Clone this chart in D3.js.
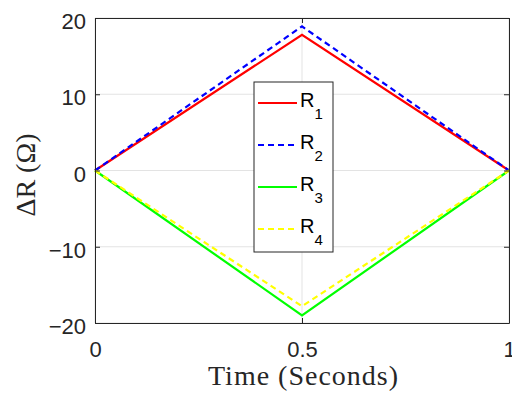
<!DOCTYPE html>
<html><head><meta charset="utf-8">
<script src="https://cdn.jsdelivr.net/npm/d3@7"></script>
<style>body{margin:0;background:#fff}</style>
</head><body>
<svg id="c" width="512" height="399"></svg>
<script>
const times = [0, 0.5, 1];
const r1 = [0, 17.8, 0];
const r2 = [0, 18.9, 0];
const r3 = [0, -19.0, 0];
const r4 = [0, -17.8, 0];
const seriesNames = ["1", "2", "3", "4"];
const xTicks = [0, 0.5, 1];
const yTicks = [-20, -10, 0, 10, 20];

const series = [
  {name: seriesNames[0], values: r1, color: "#ff0000", dash: null},
  {name: seriesNames[1], values: r2, color: "#0000ff", dash: "6,4"},
  {name: seriesNames[2], values: r3, color: "#00ff00", dash: null},
  {name: seriesNames[3], values: r4, color: "#ffff00", dash: "6,4"}
];

const L = 95, R = 509, T = 18, B = 323;
const svg = d3.select("#c");
const x = d3.scaleLinear().domain([0, 1]).range([L, R]);
const y = d3.scaleLinear().domain([-20, 20]).range([B, T]);

// grid
svg.append("g").selectAll("line").data(xTicks).join("line")
  .attr("x1", d => x(d)).attr("x2", d => x(d)).attr("y1", T).attr("y2", B)
  .attr("stroke", "#e3e3e3").attr("stroke-width", 1);
svg.append("g").selectAll("line").data(yTicks).join("line")
  .attr("y1", d => y(d)).attr("y2", d => y(d)).attr("x1", L).attr("x2", R)
  .attr("stroke", "#e3e3e3").attr("stroke-width", 1);

// lines
const line = d3.line().x((d, i) => x(times[i])).y(d => y(d));
series.forEach(s => {
  svg.append("path").datum(s.values).attr("d", line)
    .attr("fill", "none").attr("stroke", s.color).attr("stroke-width", 2.2)
    .attr("stroke-dasharray", s.dash);
});

// axes
const fontT = "'Liberation Sans', Arial, Helvetica, sans-serif";
const xAxis = d3.axisBottom(x).tickValues(xTicks).tickFormat(d3.format("")).tickSizeInner(-5).tickSizeOuter(0);
const yAxis = d3.axisLeft(y).tickValues(yTicks).tickFormat(d3.format("")).tickSizeInner(-5).tickSizeOuter(0);
const gx = svg.append("g").attr("transform", `translate(0,${B})`).call(xAxis);
const gy = svg.append("g").attr("transform", `translate(${L},0)`).call(yAxis);
svg.append("g").attr("transform", `translate(0,${T})`).call(d3.axisTop(x).tickValues(xTicks).tickFormat("").tickSizeInner(-5).tickSizeOuter(0));
svg.append("g").attr("transform", `translate(${R},0)`).call(d3.axisRight(y).tickValues(yTicks).tickFormat("").tickSizeInner(-5).tickSizeOuter(0));
svg.selectAll(".domain").attr("stroke", "#262626").attr("stroke-width", 1);
svg.selectAll(".tick line").attr("stroke", "#262626");
svg.selectAll(".tick text").attr("font-family", fontT).attr("font-size", 22).attr("fill", "#262626");
gx.selectAll(".tick text").attr("y", 34).attr("dy", "0");
gy.selectAll(".tick text").attr("x", -9).attr("dy", "0.48em");

// axis labels
const serif = "'Liberation Serif', 'Times New Roman', serif";
svg.append("text").attr("x", 303).attr("y", 385).attr("text-anchor", "middle")
  .attr("font-family", serif).attr("font-size", 28).attr("fill", "#262626")
  .attr("textLength", 190).attr("lengthAdjust", "spacing")
  .text("Time (Seconds)");
svg.append("text").attr("transform", `translate(35,175) rotate(-90)`).attr("text-anchor", "middle")
  .attr("font-family", serif).attr("font-size", 28).attr("fill", "#262626")
  .text("ΔR (Ω)");

// legend
const lg = svg.append("g");
lg.append("rect").attr("x", 254).attr("y", 82).attr("width", 79).attr("height", 170)
  .attr("fill", "#fff").attr("stroke", "#262626").attr("stroke-width", 1);
const ly = d3.scalePoint().domain(seriesNames).range([103, 229]);
series.forEach(s => {
  const yy = ly(s.name);
  lg.append("line").attr("x1", 258).attr("x2", 297).attr("y1", yy).attr("y2", yy)
    .attr("stroke", s.color).attr("stroke-width", 2.2).attr("stroke-dasharray", s.dash);
  const t = lg.append("text").attr("x", 300).attr("y", yy + 4).attr("font-family", fontT)
    .attr("font-size", 20).attr("fill", "#000");
  t.append("tspan").text("R");
  t.append("tspan").attr("dy", 12).attr("font-size", 15).text(s.name);
});
</script>
</body></html>
